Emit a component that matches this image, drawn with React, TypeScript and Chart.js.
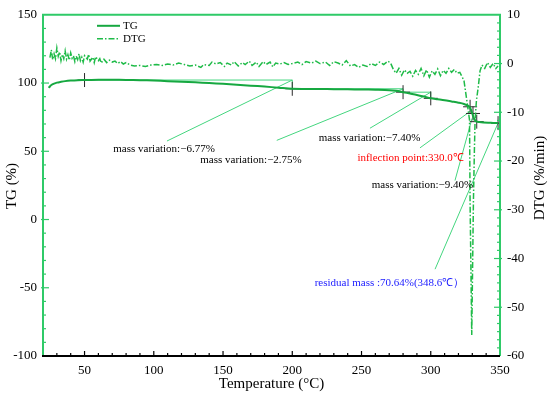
import React, { useEffect, useRef } from 'react';
import { Chart, registerables } from 'chart.js';
Chart.register(...registerables);

// ---- data ----
const tgTemp = [24, 25, 26, 28, 30, 33, 36, 40, 45, 50, 60, 70, 80, 90, 100, 110, 120, 130, 140, 150, 160, 170, 180, 190, 200, 210, 220, 230, 240, 250, 260, 270, 275, 280, 285, 290, 295, 300, 305, 310, 315, 320, 324, 326, 328, 329, 330, 331, 332, 333, 335, 338, 342, 345, 348.6];
const tgValue = [96.5, 97.5, 98.6, 99.6, 100.3, 100.9, 101.4, 101.8, 102.1, 102.2, 102.4, 102.4, 102.3, 102.1, 101.8, 101.4, 101.0, 100.5, 100.0, 99.4, 98.8, 98.1, 97.4, 96.6, 95.8, 95.7, 95.6, 95.5, 95.4, 95.3, 95.1, 94.8, 94.3, 93.3, 92.3, 91.3, 90.1, 88.8, 88.1, 87.4, 86.5, 85.6, 84.7, 83.8, 82.6, 80.5, 77.7, 74.5, 72.8, 71.8, 71.4, 71.1, 70.9, 70.8, 70.64];

const dtgTemp = [25, 26, 27, 28, 29, 30, 31, 32, 33, 34, 35, 36, 37, 38, 39, 40, 41, 42, 43, 44, 45, 46, 47, 48, 49, 50, 52, 53, 54, 56, 57, 58, 60, 61, 62, 64, 66, 68, 70, 72, 74, 76, 78, 80, 83, 86, 90, 94, 98, 102, 106, 110, 114, 118, 122, 126, 130, 134, 136, 140, 142, 145, 148, 151, 153, 156, 158, 161, 164, 166, 169, 171, 174, 176, 179, 181, 184, 186, 188, 191, 194, 197, 200, 204, 207, 210, 214, 217, 220, 224, 227, 230, 233, 236, 239, 242, 245, 248, 251, 254, 257, 260, 263, 266, 269, 271, 273, 275, 277, 279, 281, 283, 285, 287, 289, 291, 293, 295, 297, 299, 301, 303, 305, 307, 309, 311, 313, 315, 317, 319, 321, 324, 326, 327, 328, 328.4, 329, 329.6, 330.2, 330.8, 331.5, 332, 333, 334.3, 335.6, 337, 339, 341, 343, 345, 347, 348.6];
const dtgValue = [1.2, 2.8, 0.8, 2.0, 1.0, 3.2, 1.5, 2.4, 0.6, 1.9, 1.0, 2.6, 0.9, 1.8, 0.7, 2.2, 1.1, 1.6, 0.4, 1.5, 0.8, 2.0, 0.6, 1.3, 0.3, 1.6, 0.9, 1.9, 0.5, 1.3, 0.2, 1.4, 0.6, 1.0, 0.1, 0.9, 0.2, 0.7, 0.3, 0.5, 0.0, 0.4, -0.1, 0.2, -0.3, -0.5, -0.4, -0.6, -0.3, -0.2, -0.4, -0.1, -0.3, 0.1, -0.2, -0.5, -0.3, -0.8, -0.2, -0.4, 0.3, -0.1, 0.2, -0.6, 0.1, -0.3, 0.4, -0.5, 0.2, -0.2, 0.5, -0.4, 0.3, -0.6, 0.4, -0.2, 0.3, -0.7, 0.1, -0.1, 0.2, -0.2, 0.0, 0.3, -0.2, 0.4, 0.1, 0.5, 0.0, 0.3, -0.4, 0.4, 0.1, -0.3, 0.6, -0.5, -0.2, -0.8, -0.3, -0.6, 0.0, -0.4, 0.3, -0.2, 0.5, 0.1, -1.2, -2.0, -1.0, -2.4, -1.3, -2.0, -1.6, -2.6, -1.4, -2.2, -1.0, -2.5, -1.3, -2.8, -1.5, -2.2, -1.1, -2.5, -1.4, -2.0, -1.0, -1.8, -1.2, -2.0, -1.8, -3.5, -7.5, -9.5, -11.6, -28.4, -42, -55.7, -42, -28.4, -18, -11.6, -7.5, -4.8, -1.5, -0.3, -1.0, 0.2, -0.8, 0.0, -1.0, -0.5];

const markTemp = [50, 200, 280, 300, 328.4, 330.5, 333.2, 348.6];
const markTG = [102.2, 95.8, 93.3, 88.8, 82.6, 77.7, 71.7, 70.64];

const xTicks = [50, 100, 150, 200, 250, 300, 350];
const tgTicks = [-100, -50, 0, 50, 100, 150];
const dtgTicks = [-60, -50, -40, -30, -20, -10, 0, 10];

const brackets = [
  [[50, 102.2], [200, 102.2], [200, 95.8]],
  [[200, 95.8], [280, 95.8], [280, 93.3]],
  [[280, 93.3], [300, 93.3], [300, 88.8]],
];

const notes = [
  { text: 'mass variation:\u22126.77%', color: '#000', at: [107.4, 51.7], from: [109.5, 57.5], to: [200, 102.2] },
  { text: 'mass variation:\u22122.75%', color: '#000', at: [170.2, 43.8], from: [188.8, 58.0], to: [280, 95.8] },
  { text: 'mass variation:\u22127.40%', color: '#000', at: [255.8, 59.7], from: [256.1, 66.9], to: [300, 93.3] },
  { text: 'inflection point:330.0\u2103', color: '#ff0000', at: [285.4, 45.2], from: [292.2, 52.5], to: [328.4, 79.2] },
  { text: 'mass variation:\u22129.40%', color: '#000', at: [294.0, 25.0], from: [317.5, 28.6], to: [329.8, 74.1] },
  { text: 'residual mass :70.64%(348.6\u2103\uFF09', color: '#1a1aff', at: [270.2, -46.5], from: [303.1, -36.4], to: [348.6, 70.64] },
];

const AXIS_GREEN = '#2fca68';
const TG_COLOR = '#16a840';
const DTG_COLOR = '#1fbb48';
const LEADER = '#44d67f';
const SERIF = '"Liberation Serif", "Times New Roman", serif';
const DTG_DASH = [6, 2, 1.5, 2];

const decoPlugin = {
  id: 'deco',
  beforeDatasetsDraw(chart: any) {
    const { ctx, scales } = chart;
    const xs = scales.x, ys = scales.y;
    ctx.save();
    ctx.strokeStyle = LEADER;
    ctx.lineWidth = 1;
    for (const b of brackets) {
      ctx.beginPath();
      b.forEach(([t, v]: number[], i: number) => {
        const px = xs.getPixelForValue(t), py = ys.getPixelForValue(v);
        if (i) ctx.lineTo(px, py); else ctx.moveTo(px, py);
      });
      ctx.stroke();
    }
    for (const n of notes) {
      ctx.beginPath();
      ctx.moveTo(xs.getPixelForValue(n.from[0]), ys.getPixelForValue(n.from[1]));
      ctx.lineTo(xs.getPixelForValue(n.to[0]), ys.getPixelForValue(n.to[1]));
      ctx.stroke();
    }
    ctx.restore();
  },
  afterDatasetsDraw(chart: any) {
    const { ctx, scales } = chart;
    const xs = scales.x, ys = scales.y;
    ctx.save();
    ctx.font = '11px ' + SERIF;
    ctx.textAlign = 'center';
    ctx.textBaseline = 'middle';
    for (const n of notes) {
      ctx.fillStyle = n.color;
      ctx.fillText(n.text, xs.getPixelForValue(n.at[0]), ys.getPixelForValue(n.at[1]));
    }
    ctx.restore();
  },
  afterDraw(chart: any) {
    const { ctx, chartArea: a, scales } = chart;
    const xs = scales.x, ys = scales.y, y2 = scales.y2;
    ctx.save();
    // axis lines
    ctx.lineWidth = 2;
    ctx.strokeStyle = AXIS_GREEN;
    ctx.beginPath();
    ctx.moveTo(a.left, a.bottom); ctx.lineTo(a.left, a.top); ctx.lineTo(a.right, a.top); ctx.lineTo(a.right, a.bottom);
    ctx.stroke();
    ctx.strokeStyle = '#000';
    ctx.beginPath();
    ctx.moveTo(a.left - 1, a.bottom); ctx.lineTo(a.right, a.bottom);
    ctx.stroke();
    // bottom ticks
    ctx.lineWidth = 1.2;
    for (let v = 30; v < 350; v += 10) {
      const px = xs.getPixelForValue(v);
      const len = v % 50 === 0 ? 5 : 3;
      ctx.beginPath(); ctx.moveTo(px, a.bottom); ctx.lineTo(px, a.bottom - len); ctx.stroke();
    }
    // left ticks
    ctx.strokeStyle = AXIS_GREEN;
    for (let v = -90; v < 150; v += 10) {
      const py = ys.getPixelForValue(v);
      const major = v % 50 === 0;
      ctx.beginPath(); ctx.moveTo(a.left - (major ? 2 : 0), py); ctx.lineTo(a.left + (major ? 6 : 3), py); ctx.stroke();
    }
    // right ticks
    for (let i = 1; i < 42; i++) {
      const v = -60 + (i * 10) / 6;
      const py = y2.getPixelForValue(v);
      const major = i % 6 === 0;
      ctx.beginPath(); ctx.moveTo(a.right + (major ? 2 : 0), py); ctx.lineTo(a.right - (major ? 6 : 3), py); ctx.stroke();
    }
    // titles
    ctx.fillStyle = '#000';
    ctx.font = '15px ' + SERIF;
    ctx.textAlign = 'center';
    ctx.textBaseline = 'middle';
    ctx.fillText('Temperature (\u00B0C)', (a.left + a.right) / 2, 384);
    ctx.save();
    ctx.translate(12, 186);
    ctx.rotate(-Math.PI / 2);
    ctx.fillText('TG (%)', 0, 0);
    ctx.restore();
    ctx.save();
    ctx.translate(540, 178);
    ctx.rotate(-Math.PI / 2);
    ctx.fillText('DTG (%/min)', 0, 0);
    ctx.restore();
    // legend
    const lx = a.left + 54;
    ctx.lineWidth = 2;
    ctx.strokeStyle = TG_COLOR;
    ctx.beginPath(); ctx.moveTo(lx, a.top + 11); ctx.lineTo(lx + 23, a.top + 11); ctx.stroke();
    ctx.lineWidth = 1.5;
    ctx.strokeStyle = DTG_COLOR;
    ctx.setLineDash(DTG_DASH);
    ctx.beginPath(); ctx.moveTo(lx, a.top + 24); ctx.lineTo(lx + 23, a.top + 24); ctx.stroke();
    ctx.setLineDash([]);
    ctx.font = '11px ' + SERIF;
    ctx.textAlign = 'left';
    ctx.fillText('TG', lx + 26, a.top + 11);
    ctx.fillText('DTG', lx + 26, a.top + 24);
    ctx.restore();
  },
};

const tickFont = { family: SERIF, size: 13 };

export default function App() {
  const ref = useRef<HTMLCanvasElement>(null);
  useEffect(() => {
    if (!ref.current) return;
    const chart = new Chart(ref.current, {
      type: 'line',
      data: {
        datasets: [
          {
            label: 'TG',
            data: tgTemp.map((t, i) => ({ x: t, y: tgValue[i] })),
            borderColor: TG_COLOR,
            borderWidth: 2,
            pointRadius: 0,
            tension: 0.3,
            yAxisID: 'y',
          },
          {
            label: 'DTG',
            data: dtgTemp.map((t, i) => ({ x: t, y: dtgValue[i] })),
            borderColor: DTG_COLOR,
            borderWidth: 1.5,
            borderDash: DTG_DASH,
            pointRadius: 0,
            tension: 0,
            yAxisID: 'y2',
          },
          {
            label: 'marks',
            data: markTemp.map((t, i) => ({ x: t, y: markTG[i] })),
            showLine: false,
            pointStyle: 'cross',
            pointRadius: 7,
            borderColor: '#2a2a2a',
            borderWidth: 1,
            yAxisID: 'y',
          },
        ],
      },
      options: {
        animation: false,
        responsive: false,
        layout: { padding: { top: 10, left: 0, right: 0, bottom: 0 } },
        plugins: { legend: { display: false }, tooltip: { enabled: false } },
        scales: {
          x: {
            type: 'linear',
            min: 20,
            max: 350,
            position: 'bottom',
            grid: { display: false, drawTicks: false },
            border: { display: false },
            ticks: { font: tickFont, color: '#000', padding: 7, maxRotation: 0, autoSkip: false },
            afterBuildTicks: (s: any) => { s.ticks = xTicks.map((v) => ({ value: v })); },
            afterFit: (s: any) => { s.height = 38; },
          },
          y: {
            type: 'linear',
            position: 'left',
            min: -100,
            max: 150,
            grid: { display: false, drawTicks: false },
            border: { display: false },
            ticks: { font: tickFont, color: '#000', padding: 6 },
            afterBuildTicks: (s: any) => { s.ticks = tgTicks.map((v) => ({ value: v })); },
            afterFit: (s: any) => { s.width = 43; },
          },
          y2: {
            type: 'linear',
            position: 'right',
            min: -60,
            max: 10,
            grid: { display: false, drawTicks: false },
            border: { display: false },
            ticks: { font: tickFont, color: '#000', padding: 7 },
            afterBuildTicks: (s: any) => { s.ticks = dtgTicks.map((v) => ({ value: v })); },
            afterFit: (s: any) => { s.width = 50; },
          },
        },
      },
      plugins: [decoPlugin],
    } as any);
    return () => chart.destroy();
  }, []);
  return (
    <canvas
      ref={ref}
      width={550}
      height={394}
      style={{ position: 'fixed', left: 0, top: 0, width: 550, height: 394, display: 'block', background: '#fff' }}
    />
  );
}
